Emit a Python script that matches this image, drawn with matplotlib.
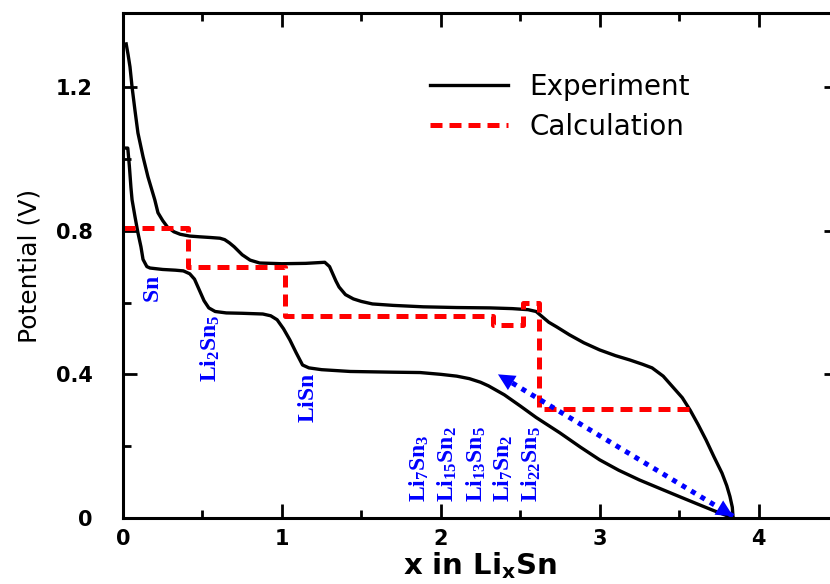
import matplotlib
matplotlib.use('Agg')
import matplotlib.pyplot as plt

plt.rcParams['mathtext.fontset'] = 'custom'
plt.rcParams['mathtext.rm'] = 'Liberation Serif:bold'
plt.rcParams['mathtext.sf'] = 'DejaVu Sans:bold'

# experiment, upper branch (delithiation)
up_x = [0.02, 0.032, 0.044, 0.057, 0.075, 0.094, 0.126, 0.157, 0.2, 0.22, 0.25, 0.28, 0.32,
        0.36, 0.42, 0.48, 0.55, 0.61, 0.64, 0.67, 0.70, 0.75, 0.80, 0.86, 1.0, 1.15, 1.27,
        1.30, 1.32, 1.34, 1.36, 1.40, 1.45, 1.50, 1.57, 1.7, 1.89, 2.1, 2.31, 2.45, 2.55,
        2.6, 2.64, 2.68, 2.73, 2.81, 2.9, 3.0, 3.1, 3.19, 3.27, 3.33, 3.4, 3.46, 3.52,
        3.57, 3.62, 3.67, 3.72, 3.77, 3.80, 3.82, 3.835, 3.84]
up_y = [1.32, 1.29, 1.256, 1.20, 1.136, 1.072, 1.006, 0.95, 0.886, 0.85, 0.828, 0.81, 0.797,
        0.79, 0.785, 0.783, 0.781, 0.779, 0.775, 0.766, 0.755, 0.733, 0.718, 0.71, 0.708, 0.709, 0.712,
        0.70, 0.68, 0.66, 0.643, 0.622, 0.61, 0.603, 0.596, 0.592, 0.588, 0.586, 0.585, 0.583, 0.58,
        0.575, 0.56, 0.545, 0.532, 0.51, 0.488, 0.468, 0.452, 0.44, 0.428, 0.418, 0.395, 0.365, 0.335,
        0.30, 0.26, 0.217, 0.17, 0.125, 0.09, 0.06, 0.03, 0.0]

# experiment, lower branch (lithiation)
low_x = [0.02, 0.03, 0.04, 0.05, 0.057, 0.075, 0.094, 0.113, 0.126, 0.15, 0.17, 0.25, 0.33,
         0.38, 0.42, 0.45, 0.48, 0.51, 0.54, 0.58, 0.65, 0.75, 0.88, 0.93, 0.97, 1.01, 1.05,
         1.09, 1.13, 1.17, 1.25, 1.43, 1.7, 1.87, 2.0, 2.1, 2.18, 2.25, 2.3, 2.4, 2.5, 2.6,
         2.75, 2.88, 3.0, 3.12, 3.25, 3.38, 3.5, 3.61, 3.71, 3.78, 3.84]
low_y = [1.03, 1.03, 0.98, 0.92, 0.886, 0.84, 0.794, 0.755, 0.72, 0.70, 0.696, 0.692, 0.69,
         0.688, 0.68, 0.665, 0.635, 0.605, 0.585, 0.575, 0.571, 0.57, 0.568, 0.563, 0.552, 0.527, 0.496,
         0.46, 0.426, 0.418, 0.413, 0.408, 0.406, 0.405, 0.40, 0.395, 0.388, 0.378, 0.368, 0.343, 0.312, 0.28,
         0.237, 0.197, 0.162, 0.133, 0.106, 0.082, 0.06, 0.04, 0.022, 0.01, 0.0]

# calculated step profile
calc_x = [0.0, 0.41, 1.02, 2.33, 2.52, 2.62, 3.57]
calc_y = [0.808, 0.70, 0.563, 0.538, 0.60, 0.303, 0.303]

# phase labels
phase_names = [r'$\mathrm{Sn}$', r'$\mathrm{Li_2Sn_5}$', r'$\mathrm{LiSn}$',
               r'$\mathrm{Li_7Sn_3}$', r'$\mathrm{Li_{15}Sn_2}$', r'$\mathrm{Li_{13}Sn_5}$',
               r'$\mathrm{Li_7Sn_2}$', r'$\mathrm{Li_{22}Sn_5}$']
phase_x = [0.18, 0.55, 1.16, 1.86, 2.04, 2.22, 2.39, 2.57]
phase_y = [0.60, 0.38, 0.265, 0.045, 0.045, 0.045, 0.045, 0.045]

arrow_start = (3.84, 0.005)
arrow_end = (2.36, 0.40)

xticks = [0, 1, 2, 3, 4]
yticks = [0, 0.4, 0.8, 1.2]
ytick_labels = ['0', '0.4', '0.8', '1.2']

fig = plt.figure(figsize=(8.3, 5.84), dpi=100)
ax = fig.add_axes([0.1482, 0.113, 0.8614, 0.8647])

ax.plot(up_x, up_y, color='black', lw=2.4, solid_joinstyle='round', label='Experiment')
ax.plot(low_x, low_y, color='black', lw=2.4, solid_joinstyle='round')
ax.step(calc_x, calc_y, where='post', color='red', lw=3.6,
        linestyle=(0, (2.4, 1.4)), label='Calculation')

# dotted double arrow
ax.plot([arrow_start[0], arrow_end[0]], [arrow_start[1], arrow_end[1]],
        color='blue', lw=3.6, linestyle=(0, (1, 1.2)))
for tip, tail in [(arrow_end, arrow_start), (arrow_start, arrow_end)]:
    bx = tip[0] + (tail[0] - tip[0]) * 0.06
    by = tip[1] + (tail[1] - tip[1]) * 0.06
    ax.annotate('', xy=tip, xytext=(bx, by),
                arrowprops=dict(arrowstyle='-|>', color='blue', lw=0,
                                mutation_scale=30, shrinkA=0, shrinkB=0))

for name, x, y in zip(phase_names, phase_x, phase_y):
    ax.text(x, y, name, rotation=90, color='blue', fontsize=17,
            ha='center', va='bottom')

ax.set_xlim(0, 4.5)
ax.set_ylim(0, 1.406)
ax.set_xticks(xticks)
ax.set_xticks([0.5, 1.5, 2.5, 3.5], minor=True)
ax.set_yticks(yticks)
ax.set_yticklabels(ytick_labels)
ax.set_yticks([0.2, 0.6, 1.0], minor=True)
ax.tick_params(which='both', direction='in', top=True, right=True, width=2)
ax.tick_params(which='major', length=10, labelsize=15)
ax.tick_params(axis='x', which='major', pad=8)
ax.tick_params(axis='y', which='major', pad=22)
ax.tick_params(which='minor', length=6)
for lab in ax.get_xticklabels() + ax.get_yticklabels():
    lab.set_fontweight('bold')
for sp in ax.spines.values():
    sp.set_linewidth(2.2)

ax.set_xlabel(r'x in Li$_\mathsf{x}$Sn', fontsize=21, fontweight='bold', labelpad=1)
ax.set_ylabel('Potential (V)', fontsize=18, labelpad=10)

ax.legend(loc='upper left', bbox_to_anchor=(0.429, 0.881), frameon=False,
          fontsize=20, handlelength=2.8, handletextpad=0.8, labelspacing=0.43,
          borderpad=0, borderaxespad=0)

fig.savefig('out.png', dpi=100)
